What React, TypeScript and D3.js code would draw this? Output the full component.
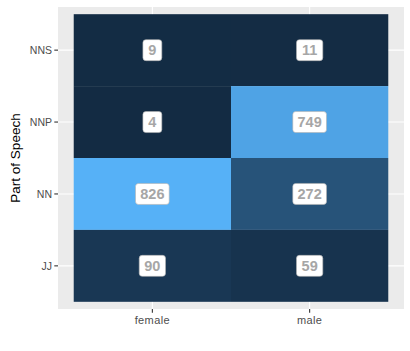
import React from "react";
import * as d3 from "d3";

const genders = ["female", "male"];
const tags = ["JJ", "NN", "NNP", "NNS"];
const cells = [
  { gender: "female", tag: "NNS", n: 9 },
  { gender: "male", tag: "NNS", n: 11 },
  { gender: "female", tag: "NNP", n: 4 },
  { gender: "male", tag: "NNP", n: 749 },
  { gender: "female", tag: "NN", n: 826 },
  { gender: "male", tag: "NN", n: 272 },
  { gender: "female", tag: "JJ", n: 90 },
  { gender: "male", tag: "JJ", n: 59 },
];

export default function App() {
  const W = 410, H = 351;
  const pl = 58, pr = 404, pt = 7, pb = 309;
  const x = d3.scaleLinear().domain([0.4, 2.6]).range([pl, pr]);
  const y = d3.scaleLinear().domain([0.4, 4.6]).range([pb, pt]);
  const ext = d3.extent(cells, (d) => d.n) as [number, number];
  const color = d3.scaleLinear<string>().domain(ext).range(["#132B43", "#56B1F7"]).interpolate(d3.interpolateLab);
  const xi = (g: string) => genders.indexOf(g) + 1;
  const yi = (t: string) => tags.indexOf(t) + 1;
  const font = "Liberation Sans, Arial, sans-serif";
  return (
    <svg width={W} height={H} style={{ position: "absolute", left: 0, top: 0 }} fontFamily={font}>
      <rect x={0} y={0} width={W} height={H} fill="white" />
      <rect x={pl} y={pt} width={pr - pl} height={pb - pt} fill="#EBEBEB" />
      {genders.map((g) => (
        <line key={g} x1={x(xi(g))} x2={x(xi(g))} y1={pt} y2={pb} stroke="white" strokeWidth={1.1} />
      ))}
      {tags.map((t) => (
        <line key={t} x1={pl} x2={pr} y1={y(yi(t))} y2={y(yi(t))} stroke="white" strokeWidth={1.1} />
      ))}
      {cells.map((d, i) => (
        <rect key={i} x={x(xi(d.gender) - 0.5)} y={y(yi(d.tag) + 0.5)} width={x(1.5) - x(0.5)} height={y(0.5) - y(1.5)} fill={color(d.n)} />
      ))}
      {cells.map((d, i) => {
        const s = String(d.n);
        const w = s.length * 7.4 + 11.5;
        const cx = x(xi(d.gender)), cy = y(yi(d.tag));
        return (
          <g key={"l" + i}>
            <rect x={cx - w / 2} y={cy - 10.5} width={w} height={21} rx={3} ry={3} fill="white" stroke="#B3B3B3" strokeWidth={0.6} />
            <text x={cx} y={cy + 5} textAnchor="middle" fontSize={14.5} fontWeight="bold" fill="#A6A6A6">{s}</text>
          </g>
        );
      })}
      {genders.map((g) => (
        <g key={"xt" + g}>
          <line x1={x(xi(g))} x2={x(xi(g))} y1={pb} y2={pb + 3.7} stroke="#333" strokeWidth={1.1} />
          <text x={x(xi(g))} y={pb + 15} textAnchor="middle" fontSize={11} letterSpacing={0.4} fill="#4D4D4D">{g}</text>
        </g>
      ))}
      {tags.map((t) => (
        <g key={"yt" + t}>
          <line x1={pl - 3.7} x2={pl} y1={y(yi(t))} y2={y(yi(t))} stroke="#333" strokeWidth={1.1} />
          <text x={pl - 6} y={y(yi(t)) + 3.8} textAnchor="end" fontSize={10.5} fill="#4D4D4D">{t}</text>
        </g>
      ))}
      <text transform={`translate(20,${(pt + pb) / 2}) rotate(-90)`} textAnchor="middle" fontSize={13.5} fill="black">Part of Speech</text>
    </svg>
  );
}
